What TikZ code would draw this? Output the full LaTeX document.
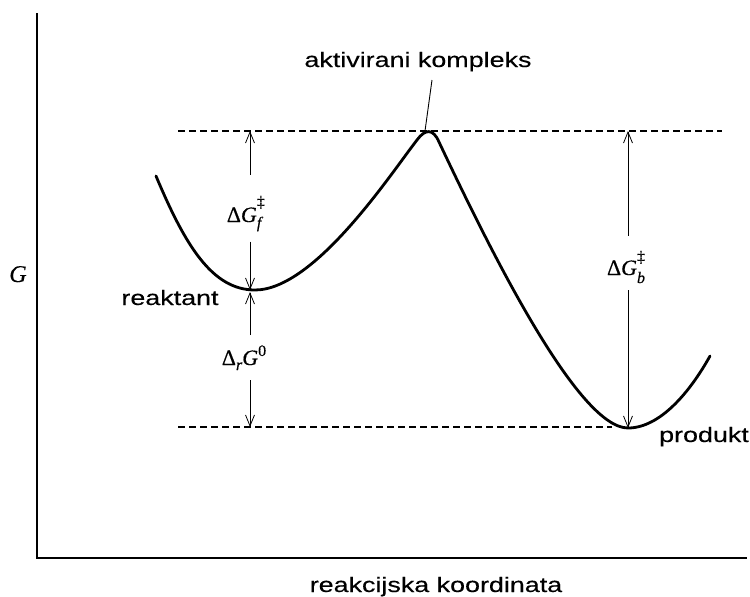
\documentclass[tikz,border=0pt]{standalone}
\usepackage{fontspec}
\setmainfont{Liberation Sans}
\newfontfamily\lblfont[FakeStretch=1.28, FakeBold=0.25]{Liberation Sans}
\newfontfamily\mserif[FakeBold=0.4]{Liberation Serif}
\usepackage{tikz}
\usetikzlibrary{arrows.meta,positioning,calc}
\newcommand{\scr}[1]{{\fontsize{16}{18}\selectfont #1}}
\tikzset{
  axis/.style={line width=2.2pt, line cap=rect},
  level/.style={dash pattern=on 7pt off 4pt, line width=1.4pt},
  energy/.style={line width=2.8pt, line cap=round},
  dimarr/.style={-{Straight Barb[length=11pt,width=9pt]}, line width=0.8pt},
  leader/.style={line width=0.9pt},
  lbl/.style={font=\lblfont\fontsize{21}{25}\selectfont, inner sep=0pt},
  mlbl/.style={font=\mserif\fontsize{22}{26}\selectfont, inner xsep=0pt, inner ysep=10pt},
}

\begin{document}
\begin{tikzpicture}[x=1pt, y=-1pt]
    \useasboundingbox (0,0) rectangle (750,597);
    % axes
    \coordinate (o) at (37,558);
    \draw[axis] (37,14) -- (o) -- (746,558);
    % energy levels
    \coordinate (rmin) at (255,290);
    \coordinate (pmin) at (628,428);
    \draw[level] (178,131) -- (722,131);
    \draw[level] (178,427) -- (612,427);
    % reaction profile
    \draw[energy] (156,176) .. controls (185,245) and (212,290) .. (rmin)
      .. controls (315,290) and (392,172) .. (417,140)
      .. controls (425,129) and (433,128) .. (439,142)
      .. controls (490,250) and (578,428) .. (pmin)
      .. controls (660,428) and (690,392) .. (710,356);
    % dimension labels
    \node[mlbl, anchor=base] (dGf) at (245,222)
      {Δ\textit{G}\rlap{\raisebox{15pt}{\scr{‡}}}\raisebox{-6pt}{\scr{\textit{f}}}};
    \node[mlbl, anchor=base] (dGr) at (244,365)
      {Δ\raisebox{-5pt}{\scr{\textit{r}}}\textit{G}\raisebox{9pt}{\scr{0}}};
    \node[mlbl, anchor=base] (dGb) at (626,275)
      {Δ\textit{G}\rlap{\raisebox{13pt}{\scr{‡}}}\raisebox{-8pt}{\scr{\textit{b}}}};
    \coordinate (fT) at (250,131);
    \coordinate (fB) at (250,290);
    \coordinate (rT) at (250,292);
    \coordinate (rB) at (250,427);
    \coordinate (bT) at (628,131);
    \coordinate (bB) at (628,428);
    \draw[dimarr, shorten <=11pt] (dGf.north -| fT) -- (fT);
    \draw[dimarr] (dGf.south -| fB) -- (fB);
    \draw[dimarr] (dGr.north -| rT) -- (rT);
    \draw[dimarr] (dGr.south -| rB) -- (rB);
    \draw[dimarr, shorten <=5pt] (dGb.north -| bT) -- (bT);
    \draw[dimarr, shorten <=-3pt] (dGb.south -| bB) -- (bB);
    % texts
    \node[lbl, anchor=base] (ak) at (418,67) {aktivirani kompleks};
    \coordinate (ldtop) at (432,80);
    \coordinate (ldend) at (425,131);
    \draw[leader] (ldtop) -- (ldend);
    \node[lbl, anchor=base] (re) at (170,305) {reaktant};
    \node[lbl, anchor=base] (pr) at (704,442) {produkt};
    \node[lbl, anchor=base] (xl) at (436,592) {reakcijska koordinata};
    \node[font=\mserif\fontsize{24}{28}\selectfont, anchor=base, inner sep=0pt] (yl) at (18,282) {\textit{G}};
\end{tikzpicture}
\end{document}
